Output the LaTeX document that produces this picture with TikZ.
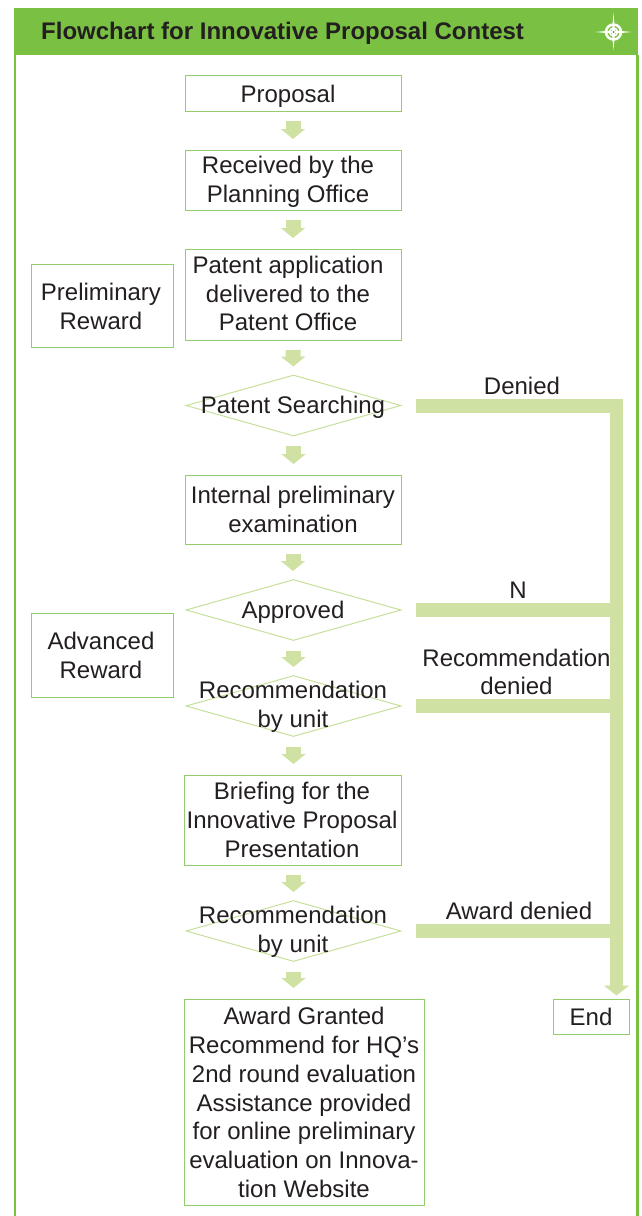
\documentclass[tikz,border=0pt]{standalone}
\usepackage{fontspec}
\setmainfont{Liberation Sans}
\usetikzlibrary{arrows.meta,shapes.geometric}
\definecolor{hdr}{HTML}{7AC143}
\definecolor{pale}{HTML}{CFE2A3}
\definecolor{edge}{HTML}{93CE6C}
\definecolor{ink}{HTML}{231F20}
\tikzset{
  boxshape/.style={draw=edge,line width=1pt,rectangle,inner sep=0pt,fill=white},
  dia/.style={draw=pale!85!edge,line width=1pt,diamond,inner sep=0pt,minimum width=215pt,minimum height=61pt},
  txt/.style={text=ink,align=center,inner sep=0pt,font=\fontsize{24}{28.6}\selectfont},
  flow/.style={draw=pale,line width=15pt,-{Triangle[length=10pt,width=24pt]},shorten <=9.5pt,shorten >=10.5pt},
  flowd/.style={flow,shorten >=8pt},
  bar/.style={draw=pale,line width=14pt,shorten <=14.5pt},
  trunkline/.style={draw=pale,line width=13pt,-{Triangle[length=10pt,width=25pt]},shorten >=3pt}
}
\begin{document}
\begin{tikzpicture}[x=1pt,y=-1pt]
\useasboundingbox (0,0) rectangle (641,1216);
% frame
\fill[hdr] (13.5,8) rectangle (638,55);
\fill[hdr] (13.5,55) rectangle (15.5,1216);
\fill[hdr] (636,55) rectangle (638.5,1216);
\node[anchor=west,inner sep=0pt,text=ink,font=\fontsize{24}{28}\selectfont\bfseries] (title) at (41,33) {Flowchart for Innovative Proposal Contest};
% compass
\fill[white] (613.5,13) -- (615,30.5) -- (632,32) -- (615,33.5) -- (613.5,50) -- (612,33.5) -- (595,32) -- (612,30.5) -- cycle;
\draw[white,line width=2.5pt] (613.5,32) circle (7.5);
\draw[white,line width=1.5pt] (613.5,32) circle (4);
\fill[hdr!70!black] (613.5,32) circle (1);
% boxes
\node[boxshape,minimum width=216pt,minimum height=36pt] (b1) at (293,93) {};
\node[boxshape,minimum width=216pt,minimum height=60pt] (b2) at (293,180) {};
\node[boxshape,minimum width=216pt,minimum height=91pt] (b3) at (293,294.5) {};
\node[dia] (d1) at (293.5,405.5) {};
\node[boxshape,minimum width=216pt,minimum height=69pt] (b4) at (293,509.5) {};
\node[dia] (d2) at (293.5,610) {};
\node[dia] (d3) at (293.5,706) {};
\node[boxshape,minimum width=217pt,minimum height=90pt] (b5) at (292.5,820) {};
\node[dia] (d4) at (293.5,931) {};
\node[boxshape,minimum width=240pt,minimum height=206pt] (b6) at (304,1102) {};
\node[boxshape,minimum width=142pt,minimum height=83pt] (r1) at (102,305.5) {};
\node[boxshape,minimum width=142pt,minimum height=84pt] (r2) at (102,655) {};
\node[boxshape,minimum width=76pt,minimum height=35pt] (e) at (591,1016.5) {};
% texts
\node[txt] (t1) at (288,96) {Proposal};
\node[txt] (t2) at (288,182) {Received by the\\Planning Office};
\node[txt] (t3) at (288,293.5) {Patent application\\delivered to the\\Patent Office};
\node[txt] (t4) at (293,407) {Patent Searching};
\node[txt] (t5) at (293,509.5) {Internal preliminary\\examination};
\node[txt] (t6) at (293,612.5) {Approved};
\node[txt] (t7) at (293,706.5) {Recommendation\\by unit};
\node[txt] (t8) at (292,820) {Briefing for the\\Innovative Proposal\\Presentation};
\node[txt] (t9) at (293,931.5) {Recommendation\\by unit};
\node[txt,font=\fontsize{24}{28.85}\selectfont] (t10) at (304,1102.5) {Award Granted\\Recommend for HQ’s\\2nd round evaluation\\Assistance provided\\for online preliminary\\evaluation on Innova-\\tion Website};
\node[txt] (t11) at (101,306.5) {Preliminary\\Reward};
\node[txt] (t12) at (101,655.5) {Advanced\\Reward};
\node[txt] (t13) at (591,1017) {End};
\node[txt] (l1) at (522,386) {Denied};
\node[txt] (l2) at (518,590.5) {N};
\node[txt] (l3) at (516.5,672) {Recommendation\\denied};
\node[txt] (l4) at (519,911) {Award denied};
% block arrows
\draw[flow] (b1.south) -- (b2.north);
\draw[flow] (b2.south) -- (b3.north);
\draw[flowd] (b3.south) -- (d1.north);
\draw[flow] (d1.south) -- (b4.north -| d1.south);
\draw[flowd] (b4.south) -- (d2.north -| b4.south);
\draw[flowd] (d2.south) -- (d3.north);
\draw[flow] (d3.south) -- (b5.north -| d3.south);
\draw[flowd] (b5.south -| d3.south) -- (d4.north);
\draw[flow] (d4.south) -- (b6.north -| d4.south);
% trunk and branches
\coordinate (tr) at (616.5,399);
\draw[bar] (d1.east) -- (d1.east -| tr);
\draw[bar] (d2.east) -- (d2.east -| tr);
\draw[bar] (d3.east) -- (d3.east -| tr);
\draw[bar] (d4.east) -- (d4.east -| tr);
\draw[trunkline] (tr) -- (e.north -| tr);
\end{tikzpicture}
\end{document}
